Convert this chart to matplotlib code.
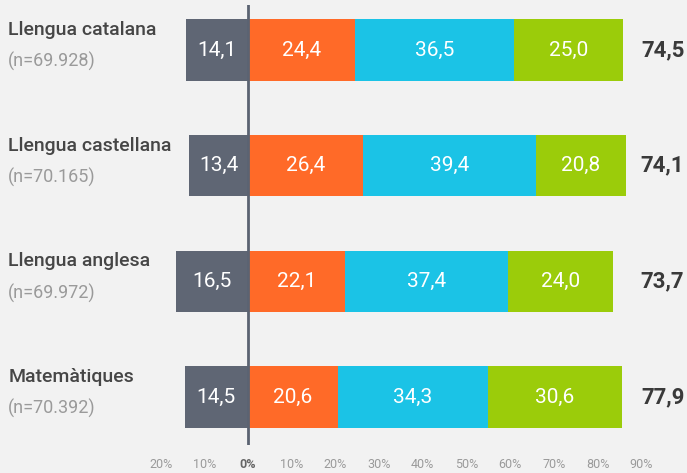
import matplotlib
matplotlib.use("Agg")
import matplotlib.pyplot as plt
import matplotlib.transforms as mtransforms
import numpy as np

# data
subjects = ["Llengua catalana", "Llengua castellana", "Llengua anglesa", "Matemàtiques"]
sizes = ["(n=69.928)", "(n=70.165)", "(n=69.972)", "(n=70.392)"]
neg_vals = [14.1, 13.4, 16.5, 14.5]
orange_vals = [24.4, 26.4, 22.1, 20.6]
cyan_vals = [36.5, 39.4, 37.4, 34.3]
green_vals = [25.0, 20.8, 24.0, 30.6]
totals = [74.5, 74.1, 73.7, 77.9]
ticks = [-20, -10, 0, 10, 20, 30, 40, 50, 60, 70, 80, 90]

FONT = ["Roboto", "DejaVu Sans"]
BG = "#f2f2f2"
GRAY = "#5f6674"
ORANGE = "#ff6a28"
CYAN = "#1bc3e6"
GREEN = "#9bcc0a"


def fmt(v):
    return f"{v:.1f}".replace(".", ",")


fig = plt.figure(figsize=(6.87, 4.73), dpi=100, facecolor=BG)
ax = fig.add_axes([0, 1 - 445 / 473, 1, 440 / 473])
ax.set_facecolor(BG)

y = np.arange(len(subjects))
h = 0.53

ax.barh(y, [-v for v in neg_vals], height=h, color=GRAY, zorder=2)
left = np.zeros(len(subjects))
for vals, col in [(orange_vals, ORANGE), (cyan_vals, CYAN), (green_vals, GREEN)]:
    ax.barh(y, vals, left=left, height=h, color=col, zorder=2)
    for i, v in enumerate(vals):
        ax.text(left[i] + v / 2, y[i], fmt(v), ha="center", va="center",
                color="white", fontsize=15, family=FONT, zorder=4)
    left = left + np.array(vals)

for i, v in enumerate(neg_vals):
    ax.text(-v / 2, y[i], fmt(v), ha="center", va="center",
            color="white", fontsize=15, family=FONT, zorder=4)

ax.axvline(0, color="#5b6372", lw=2, zorder=3)

blend = mtransforms.blended_transform_factory(ax.transAxes, ax.transData)
for i in range(len(subjects)):
    ax.annotate(subjects[i], xy=(0.012, y[i]), xycoords=blend,
                xytext=(0, 14.5), textcoords="offset points",
                ha="left", va="center", fontsize=14, fontweight="medium",
                color="#464646", family=FONT)
    ax.annotate(sizes[i], xy=(0.012, y[i]), xycoords=blend,
                xytext=(0, -8.5), textcoords="offset points",
                ha="left", va="center", fontsize=13, color="#9a9a9a", family=FONT)
    ax.text(0.996, y[i], fmt(totals[i]), transform=blend, ha="right", va="center",
            fontsize=16, fontweight="bold", color="#3a3a3a", family=FONT)

ax.set_xlim(-248 / 4.37, (687 - 248) / 4.37)
ax.set_ylim(3.414, -0.389)
ax.set_xticks(ticks)
ax.set_xticklabels([f"{abs(t)}%" for t in ticks])
ax.set_yticks([])
ax.tick_params(axis="x", length=0, pad=9, labelsize=9, labelcolor="#9a9a9a")
for lab, t in zip(ax.get_xticklabels(), ticks):
    lab.set_family(FONT)
    if t == 0:
        lab.set_fontweight("bold")
        lab.set_color("#666666")
for s in ax.spines.values():
    s.set_visible(False)

fig.savefig("out.png", dpi=100, facecolor=BG)
